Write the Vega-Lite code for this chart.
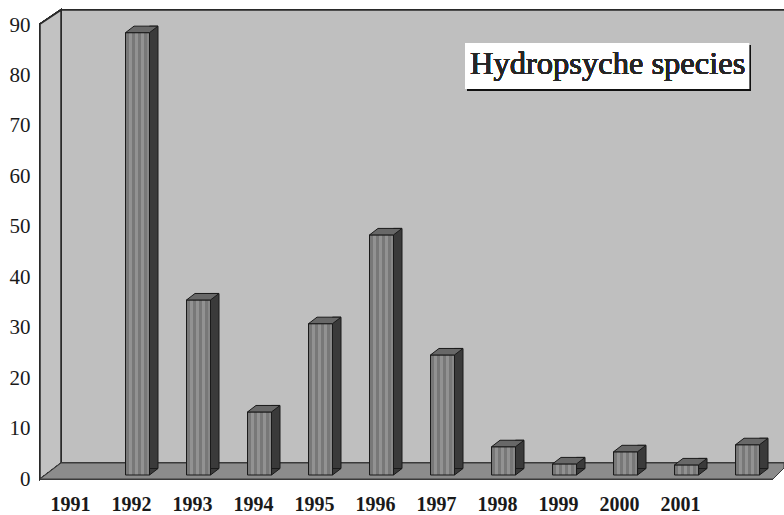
{
"$schema":"https://vega.github.io/schema/vega-lite/v6.json",
"width":744,"height":470,"autosize":"none","padding":{"left":40,"top":10,"right":0,"bottom":35},
"background":"white","config":{"view":{"stroke":null}},
"data":{"values":[{"year":1992,"count":87.7},{"year":1993,"count":34.7},{"year":1994,"count":12.5},{"year":1995,"count":30},{"year":1996,"count":47.6},{"year":1997,"count":23.8},{"year":1998,"count":5.6},{"year":1999,"count":2.2},{"year":2000,"count":4.6},{"year":2001,"count":2},{"year":2002,"count":6}]},
"layer":[
{"mark":{"type":"rect","fill":"#bfbfbf","stroke":"#2a2a2a","strokeWidth":1.5},
 "encoding":{"x":{"datum":1990.746,"type":"quantitative","scale":{"domain":[1990.4016,2002.598],"nice":false,"zero":false,"padding":0},
   "axis":{"title":null,"values":[1991,1992,1993,1994,1995,1996,1997,1998,1999,2000,2001],"format":"d","grid":false,"domain":false,"ticks":false,"labelOffset":-6.5,"labelPadding":14,"labelFont":"Liberation Serif","labelFontWeight":"bold","labelFontSize":20,"labelColor":"#1a1a1a","labelOverlap":false,"labelFlush":false}},
  "x2":{"datum":2003},
  "y":{"datum":92.19,"type":"quantitative","scale":{"domain":[-0.99,92.19],"nice":false,"zero":false,"padding":0},
   "axis":{"title":null,"values":[0,10,20,30,40,50,60,70,80,90],"grid":false,"domain":false,"ticks":false,"labelOffset":4,"labelPadding":10,"labelFont":"Liberation Serif","labelFontSize":21,"labelColor":"#1a1a1a","labelOverlap":false,"labelFlush":false}},
  "y2":{"datum":2.38}}},
{"mark":{"type":"point","filled":true,"opacity":1,"size":4,"shape":"M0,-451L21,-465L21,-12L0,4Z","fill":"#c2c2c2","stroke":"#2a2a2a","strokeWidth":1.5},
 "encoding":{"x":{"datum":1990.4016,"type":"quantitative"},"y":{"datum":0,"type":"quantitative"}}},
{"mark":{"type":"point","filled":true,"opacity":1,"size":4,"shape":"M0,4L21,-12L744,-12L744,-7L733,4Z","fill":"#8c8c8c","stroke":"#3a3a3a","strokeWidth":1},
 "encoding":{"x":{"datum":1990.4016,"type":"quantitative"},"y":{"datum":0,"type":"quantitative"}}},
{"mark":{"type":"bar","orient":"vertical","width":8.5,"xOffset":16.25,"yOffset":-6.5,"y2Offset":-6.5,"fill":"#3a3a3a","stroke":"#1a1a1a","strokeWidth":1},
 "encoding":{"x":{"field":"year","type":"quantitative"},"y":{"field":"count","type":"quantitative"},"y2":{"datum":0}}},
{"mark":{"type":"point","filled":true,"opacity":1,"size":4,"shape":"M12,0L20.5,-6.5L12,-6.5Z","fill":"#3a3a3a","stroke":"#1a1a1a","strokeWidth":1},
 "encoding":{"x":{"field":"year","type":"quantitative"},"y":{"datum":0,"type":"quantitative"}}},
{"mark":{"type":"bar","orient":"vertical","width":24,"stroke":"#1a1a1a","strokeWidth":1,
  "fill":{"x1":0,"y1":0,"x2":1,"y2":0,"gradient":"linear","stops":[
   {"offset":0,"color":"#787878"},{"offset":0.125,"color":"#787878"},{"offset":0.125,"color":"#929292"},{"offset":0.25,"color":"#929292"},{"offset":0.25,"color":"#787878"},{"offset":0.375,"color":"#787878"},{"offset":0.375,"color":"#929292"},{"offset":0.5,"color":"#929292"},{"offset":0.5,"color":"#787878"},{"offset":0.625,"color":"#787878"},{"offset":0.625,"color":"#929292"},{"offset":0.75,"color":"#929292"},{"offset":0.75,"color":"#787878"},{"offset":0.875,"color":"#787878"},{"offset":0.875,"color":"#888888"},{"offset":1,"color":"#888888"}]}},
 "encoding":{"x":{"field":"year","type":"quantitative"},"y":{"field":"count","type":"quantitative"},"y2":{"datum":0}}},
{"mark":{"type":"point","filled":true,"opacity":1,"size":4,"shape":"M-12,0L-3.5,-6.5L20.5,-6.5L12,0Z","fill":"#686868","stroke":"#1a1a1a","strokeWidth":1},
 "encoding":{"x":{"field":"year","type":"quantitative"},"y":{"field":"count","type":"quantitative"}}},
{"mark":{"type":"rect","fill":"#111111"},
 "encoding":{"x":{"datum":1997.402,"type":"quantitative"},"x2":{"datum":2002.057},"y":{"datum":85.25,"type":"quantitative"},"y2":{"datum":76.13}}},
{"mark":{"type":"rect","fill":"white"},
 "encoding":{"x":{"datum":1997.369,"type":"quantitative"},"x2":{"datum":2002.025},"y":{"datum":85.65,"type":"quantitative"},"y2":{"datum":76.53}}},
{"mark":{"type":"text","text":"Hydropsyche species","align":"left","baseline":"alphabetic","font":"Liberation Serif","fontSize":32.5,"color":"#262626"},
 "encoding":{"x":{"datum":1997.451,"type":"quantitative"},"y":{"datum":79.5,"type":"quantitative"}}}
]}
